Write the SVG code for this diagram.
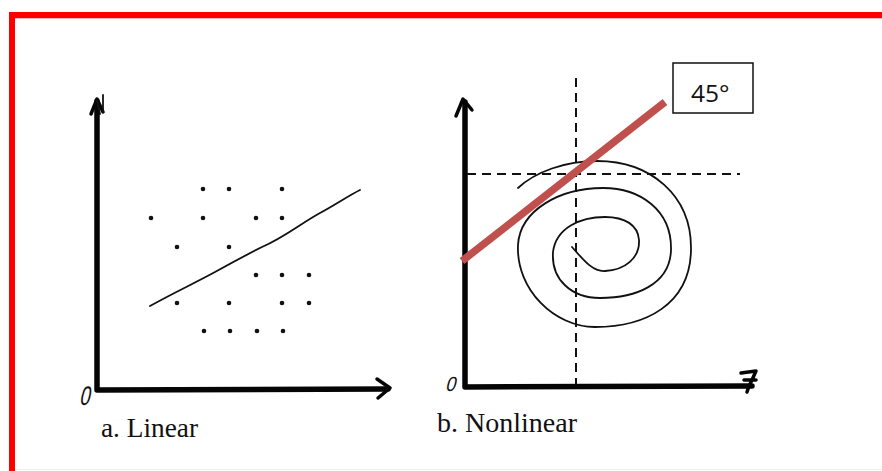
<svg xmlns="http://www.w3.org/2000/svg" width="882" height="471" viewBox="0 0 882 471">
<defs>
<style>
.axis{fill:none;stroke:#050505;stroke-width:5.5;stroke-linecap:round;stroke-linejoin:round}
.head{fill:none;stroke:#050505;stroke-width:3.5;stroke-linecap:round;stroke-linejoin:round}
.thin{fill:none;stroke:#111;stroke-width:1.8;stroke-linecap:round;stroke-linejoin:round}
.dash{fill:none;stroke:#111;stroke-width:2;stroke-dasharray:9 6}
.dot{fill:#111}
.cap{font-family:"Liberation Serif","Times New Roman",serif;font-size:27px;fill:#111}
.zero{font-family:"Liberation Sans",Arial,sans-serif;font-size:24px;fill:#111}
</style>
</defs>
<rect x="0" y="0" width="882" height="471" fill="#ffffff"/>
<g id="frame">
<rect x="9" y="12" width="873" height="6" fill="#ff0000"/>
<rect x="9" y="12" width="6" height="459" fill="#ff0000"/>
<line x1="15" y1="18.5" x2="882" y2="18.5" stroke="#ffb8b8" stroke-width="1"/>
<line x1="15" y1="469.5" x2="882" y2="469.5" stroke="#eeeeee" stroke-width="1"/>
</g>
<g id="chart-linear">
<path class="axis" d="M97,101 L97,390 L388,389"/>
<path class="head" d="M91,114 L97,99 L103,112"/>
<path class="thin" d="M97,100 L100,114 M103,95 L103,112"/>
<path class="head" d="M377,379 L390,388 L378,398"/>
<text class="zero" transform="translate(79,405) skewX(-12) scale(0.78,1.12)" x="0" y="0">0</text>
<g id="dots">
<circle class="dot" cx="203" cy="189" r="2.3"/><circle class="dot" cx="229" cy="189" r="2.3"/><circle class="dot" cx="282" cy="189" r="2.3"/>
<circle class="dot" cx="151" cy="218" r="2.3"/><circle class="dot" cx="203" cy="218" r="2.3"/><circle class="dot" cx="256" cy="218" r="2.3"/><circle class="dot" cx="282" cy="218" r="2.3"/>
<circle class="dot" cx="177" cy="247" r="2.3"/><circle class="dot" cx="229" cy="247" r="2.3"/>
<circle class="dot" cx="256" cy="275" r="2.3"/><circle class="dot" cx="282" cy="275" r="2.3"/><circle class="dot" cx="309" cy="275" r="2.3"/>
<circle class="dot" cx="177" cy="303" r="2.3"/><circle class="dot" cx="229" cy="303" r="2.3"/><circle class="dot" cx="282" cy="303" r="2.3"/><circle class="dot" cx="309" cy="303" r="2.3"/>
<circle class="dot" cx="204" cy="331" r="2.3"/><circle class="dot" cx="230" cy="331" r="2.3"/><circle class="dot" cx="257" cy="331" r="2.3"/><circle class="dot" cx="283" cy="331" r="2.3"/>
</g>
<path class="thin" d="M150,306 C175,292 195,283 215,272 C235,261 250,253 262,247 C285,237 300,224 320,213 C335,205 348,196 360,190"/>
<text class="cap" x="101" y="437" textLength="97" lengthAdjust="spacingAndGlyphs">a. Linear</text>
</g>
<g id="chart-nonlinear">
<path class="axis" d="M465,102 L465,387 L752,386"/>
<path class="head" d="M456,116 L463,99 L472,110"/>
<path class="head" d="M741,373 L756,371 L752,380 L749,386 L747,392 M744,380 L756,380"/>
<text class="zero" transform="translate(445,391) skewX(-15) scale(0.75,0.85)" x="0" y="0">0</text>
<path class="dash" d="M576,78 L576,384"/>
<path class="dash" d="M467,174 L740,174"/>
<path class="thin" d="M572,247 C582,258 592,272 605,271 C625,270 640,258 639,240 C638,225 625,217 605,217 C580,217 556,228 553,252 C551,280 572,298 600,298 C635,298 670,285 671,250 C672,210 640,188 603,188 C560,188 520,210 518,245 C516,290 555,327 595,327 C645,327 690,305 691,250 C692,195 650,161 597,161 C565,161 535,172 518,188"/>
<line x1="462" y1="261" x2="665" y2="102" stroke="#c0504d" stroke-width="7.5"/>
<g id="angle-label">
<rect x="673" y="63" width="80" height="50" fill="#ffffff" stroke="#111" stroke-width="1.5"/>
<text x="691" y="102" style="font-family:'Open Sans','Liberation Sans',Arial,sans-serif;font-size:24.5px;fill:#111">45°</text>
</g>
<text class="cap" x="437" y="432" textLength="140" lengthAdjust="spacingAndGlyphs">b. Nonlinear</text>
</g>
</svg>
